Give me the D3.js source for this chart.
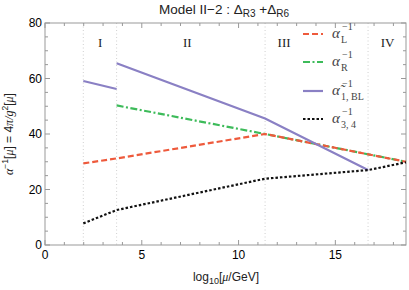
<!DOCTYPE html>
<meta charset="utf-8">
<script src="https://d3js.org/d3.v7.min.js"></script>
<style>
  body { margin: 0; background: #fff; }
  text { font-family: "Liberation Sans", Arial, sans-serif; }
  .serif { font-family: "Liberation Serif", "Times New Roman", serif; }
</style>
<body>
<div id="draw"></div>
<script>
  // thresholds between regions (log10 mu/GeV)
  var boundaries = [1.98, 3.7, 11.37, 16.69];
  var regions = [
    {label: "I", x: 2.85},
    {label: "II", x: 7.35},
    {label: "III", x: 12.35},
    {label: "IV", x: 17.7}
  ];

  var alphaL = [[1.98, 29.4], [3.7, 31.2], [11.37, 40.0], [18.65, 30.0]];
  var alphaR = [[3.7, 50.3], [11.37, 40.0], [18.65, 30.0]];
  var alpha1BL_a = [[1.98, 59.1], [3.7, 56.2]];
  var alpha1BL_b = [[3.7, 65.5], [11.37, 45.6], [16.69, 27.0]];
  var alpha34 = [[1.98, 7.8], [3.7, 12.6], [11.37, 23.9], [16.69, 27.0], [18.65, 29.8]];

  var xTicks = [0, 5, 10, 15];
  var yTicks = [0, 20, 40, 60, 80];

  var width = 409, height = 290;
  var margins = {top: 23, right: 3, bottom: 45, left: 45};
  var chartWidth = width - margins.left - margins.right;
  var chartHeight = height - margins.top - margins.bottom;

  var svg = d3.select("#draw").append("svg")
    .attr("width", width).attr("height", height);

  var chart = svg.append("g")
    .attr("transform", "translate(" + margins.left + "," + margins.top + ")");

  var x = d3.scaleLinear().domain([0, 18.65]).range([0, chartWidth]);
  var y = d3.scaleLinear().domain([0, 80]).range([chartHeight, 0]);

  // region boundaries
  chart.selectAll("line.bound").data(boundaries).enter().append("line")
    .attr("class", "bound")
    .attr("x1", function(d){return x(d);}).attr("x2", function(d){return x(d);})
    .attr("y1", 0).attr("y2", chartHeight)
    .style("stroke", "#c4c4c4").style("stroke-width", 0.8).style("stroke-dasharray", "1,2.5");

  chart.selectAll("text.region").data(regions).enter().append("text")
    .attr("class", "serif region")
    .attr("x", function(d){return x(d.x);}).attr("y", 24)
    .attr("text-anchor", "middle").style("font-size", "13px").style("fill", "#222")
    .text(function(d){return d.label;});

  // frame + ticks
  var frameColor = "#999";
  chart.append("rect").attr("width", chartWidth).attr("height", chartHeight)
    .style("fill", "none").style("stroke", frameColor).style("stroke-width", 1);

  var xMinor = d3.range(0, 19, 1);
  var yMinor = d3.range(0, 81, 5);
  xMinor.forEach(function(v){
    var len = (v % 5 === 0) ? 5 : 3;
    chart.append("line").attr("x1", x(v)).attr("x2", x(v)).attr("y1", chartHeight).attr("y2", chartHeight - len)
      .style("stroke", frameColor);
    chart.append("line").attr("x1", x(v)).attr("x2", x(v)).attr("y1", 0).attr("y2", len)
      .style("stroke", frameColor);
  });
  yMinor.forEach(function(v){
    var len = (v % 20 === 0) ? 5 : 3;
    chart.append("line").attr("x1", 0).attr("x2", len).attr("y1", y(v)).attr("y2", y(v))
      .style("stroke", frameColor);
    chart.append("line").attr("x1", chartWidth).attr("x2", chartWidth - len).attr("y1", y(v)).attr("y2", y(v))
      .style("stroke", frameColor);
  });

  chart.selectAll("text.xt").data(xTicks).enter().append("text")
    .attr("x", function(d){return x(d);}).attr("y", chartHeight + 14)
    .attr("text-anchor", "middle").style("font-size", "12px").text(function(d){return d;});
  chart.selectAll("text.yt").data(yTicks).enter().append("text")
    .attr("x", -3).attr("y", function(d){return y(d) + 4;})
    .attr("text-anchor", "end").style("font-size", "12px").text(function(d){return d;});

  // curves
  var line = d3.line().x(function(d){return x(d[0]);}).y(function(d){return y(d[1]);});
  var series = [
    {data: alphaR, color: "#3dbb5a", dash: "7,2.5,2,2.5"},
    {data: alphaL, color: "#ee5a3c", dash: "6,3"},
    {data: alpha1BL_a, color: "#8a80c4", dash: null},
    {data: alpha1BL_b, color: "#8a80c4", dash: null},
    {data: alpha34, color: "#111", dash: "2.5,2"}
  ];
  chart.selectAll("path.curve").data(series).enter().append("path")
    .attr("d", function(d){return line(d.data);})
    .style("fill", "none").style("stroke", function(d){return d.color;})
    .style("stroke-width", 2.2)
    .style("stroke-dasharray", function(d){return d.dash;});

  // legend
  var legend = [
    {color: "#ee5a3c", dash: "6,3", tilde: false, sub: "L", y: 34},
    {color: "#3dbb5a", dash: "7,2.5,2,2.5", tilde: false, sub: "R", y: 62},
    {color: "#8a80c4", dash: null, tilde: true, sub: "1, BL", y: 91},
    {color: "#111", dash: "2.5,2", tilde: false, sub: "3, 4", y: 119}
  ];
  var lg = svg.selectAll("g.leg").data(legend).enter().append("g")
    .attr("transform", function(d){return "translate(303," + d.y + ")";});
  lg.append("line").attr("x1", 0).attr("x2", 20).attr("y1", 0).attr("y2", 0)
    .style("stroke", function(d){return d.color;}).style("stroke-width", 2.2)
    .style("stroke-dasharray", function(d){return d.dash;});
  lg.append("text").attr("class", "serif").attr("x", 29).attr("y", 4)
    .style("font-size", "15px").style("font-style", "italic").style("fill", "#444")
    .text(function(d){return d.tilde ? "α\u0303" : "α";});
  lg.append("text").attr("class", "serif").attr("x", 39).attr("y", -4)
    .style("font-size", "10px").style("fill", "#444").text("\u22121");
  lg.append("text").attr("class", "serif").attr("x", 38).attr("y", 9)
    .style("font-size", "10px").style("fill", "#444")
    .text(function(d){return d.sub;});

  // title
  var title = svg.append("text").attr("x", 224).attr("y", 14).attr("text-anchor", "middle")
    .style("font-size", "13.5px").style("fill", "#222");
  title.append("tspan").text("Model II\u22122 :  \u0394");
  title.append("tspan").attr("dy", 3).style("font-size", "10px").text("R3");
  title.append("tspan").attr("dy", -3).text(" +\u0394");
  title.append("tspan").attr("dy", 3).style("font-size", "10px").text("R6");

  // x label
  var xl = svg.append("text").attr("x", 226).attr("y", 281).attr("text-anchor", "middle")
    .style("font-size", "12px").style("fill", "#222");
  xl.append("tspan").text("log");
  xl.append("tspan").attr("dy", 3).style("font-size", "9px").text("10");
  xl.append("tspan").attr("dy", -3).text("[");
  xl.append("tspan").attr("class", "serif").style("font-style", "italic").text("μ");
  xl.append("tspan").text("/GeV]");

  // y label
  var yl = svg.append("text").attr("transform", "translate(13," + (margins.top + chartHeight / 2) + ") rotate(-90)")
    .attr("text-anchor", "middle").style("font-size", "12px").style("fill", "#222");
  yl.append("tspan").attr("class", "serif").style("font-style", "italic").text("α");
  yl.append("tspan").attr("dy", -5).style("font-size", "8.5px").text("\u22121");
  yl.append("tspan").attr("dy", 5).text("[");
  yl.append("tspan").attr("class", "serif").style("font-style", "italic").text("μ");
  yl.append("tspan").text("] = 4");
  yl.append("tspan").attr("class", "serif").style("font-style", "italic").text("π/g");
  yl.append("tspan").attr("dy", -5).style("font-size", "8.5px").text("2");
  yl.append("tspan").attr("dy", 5).text("[");
  yl.append("tspan").attr("class", "serif").style("font-style", "italic").text("μ");
  yl.append("tspan").text("]");
</script>
</body>
